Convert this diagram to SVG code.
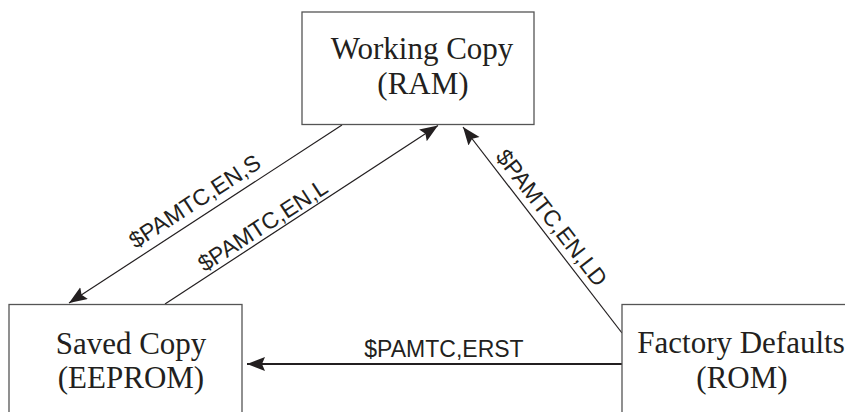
<svg xmlns="http://www.w3.org/2000/svg" width="845" height="412" viewBox="0 0 845 412">
<style>
.box{fill:#fff;stroke:#555;stroke-width:1.3}
.nt{font-family:"Liberation Serif","Times New Roman",serif;font-size:31px;fill:#231f20;text-anchor:middle}
.lb{font-family:"Liberation Sans",Arial,sans-serif;font-size:23px;fill:#231f20;text-anchor:middle}
.ln{stroke:#231f20;stroke-width:1.2;fill:none}
</style>
<defs>
<marker id="ah" markerUnits="userSpaceOnUse" markerWidth="20" markerHeight="16" refX="18" refY="7" orient="auto">
<path d="M0,0 L18,7 L0,14 L3,7 Z" fill="#231f20"/>
</marker>
</defs>
<rect width="845" height="412" fill="#fff"/>
<g id="connectors">
<line class="ln" x1="342" y1="125" x2="69" y2="303" marker-end="url(#ah)"/>
<line class="ln" x1="165" y1="304" x2="438" y2="125.5" marker-end="url(#ah)"/>
<line class="ln" x1="622" y1="333" x2="463" y2="127" marker-end="url(#ah)"/>
<line class="ln" x1="622" y1="364" x2="247" y2="364" style="stroke-width:2" marker-end="url(#ah)"/>
<text class="lb" transform="translate(199,208) rotate(-33)">$PAMTC,EN,S</text>
<text class="lb" transform="translate(267,232) rotate(-33)">$PAMTC,EN,L</text>
<text class="lb" transform="translate(545.5,222.6) rotate(52.3)">$PAMTC,EN,LD</text>
<text class="lb" x="444" y="357">$PAMTC,ERST</text>
</g>
<g id="working">
<rect class="box" x="302" y="12" width="232" height="112.5"/>
<text class="nt" x="422" y="59">Working Copy</text>
<text class="nt" x="423" y="94">(RAM)</text>
</g>
<g id="saved">
<rect class="box" x="9" y="304.5" width="233" height="120"/>
<text class="nt" x="131" y="354">Saved Copy</text>
<text class="nt" x="131" y="388">(EEPROM)</text>
</g>
<g id="factory">
<rect class="box" x="622" y="304.5" width="240" height="120"/>
<text class="nt" x="741" y="353">Factory Defaults</text>
<text class="nt" x="742" y="388">(ROM)</text>
</g>
</svg>
